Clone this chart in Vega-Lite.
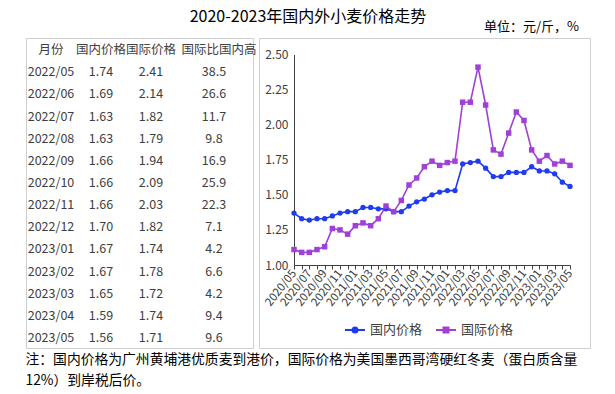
{
  "$schema": "https://vega.github.io/schema/vega-lite/v6.json",
  "padding": {"left": 25, "top": 8, "right": 0, "bottom": 0},
  "background": "white",
  "config": {"font": "Noto Sans CJK SC", "view": {"stroke": "#cfcfcf", "strokeWidth": 1}},
  "datasets": {
    "prices": [
      {"月份": "2020/05", "国内价格": 1.37, "国际价格": 1.11},
      {"月份": "2020/06", "国内价格": 1.33, "国际价格": 1.09},
      {"月份": "2020/07", "国内价格": 1.32, "国际价格": 1.09},
      {"月份": "2020/08", "国内价格": 1.33, "国际价格": 1.11},
      {"月份": "2020/09", "国内价格": 1.33, "国际价格": 1.13},
      {"月份": "2020/10", "国内价格": 1.35, "国际价格": 1.26},
      {"月份": "2020/11", "国内价格": 1.37, "国际价格": 1.25},
      {"月份": "2020/12", "国内价格": 1.38, "国际价格": 1.22},
      {"月份": "2021/01", "国内价格": 1.38, "国际价格": 1.28},
      {"月份": "2021/02", "国内价格": 1.41, "国际价格": 1.30},
      {"月份": "2021/03", "国内价格": 1.41, "国际价格": 1.28},
      {"月份": "2021/04", "国内价格": 1.40, "国际价格": 1.33},
      {"月份": "2021/05", "国内价格": 1.40, "国际价格": 1.42},
      {"月份": "2021/06", "国内价格": 1.38, "国际价格": 1.38},
      {"月份": "2021/07", "国内价格": 1.38, "国际价格": 1.46},
      {"月份": "2021/08", "国内价格": 1.42, "国际价格": 1.57},
      {"月份": "2021/09", "国内价格": 1.45, "国际价格": 1.62},
      {"月份": "2021/10", "国内价格": 1.47, "国际价格": 1.70},
      {"月份": "2021/11", "国内价格": 1.50, "国际价格": 1.74},
      {"月份": "2021/12", "国内价格": 1.52, "国际价格": 1.71},
      {"月份": "2022/01", "国内价格": 1.53, "国际价格": 1.73},
      {"月份": "2022/02", "国内价格": 1.53, "国际价格": 1.74},
      {"月份": "2022/03", "国内价格": 1.72, "国际价格": 2.16},
      {"月份": "2022/04", "国内价格": 1.73, "国际价格": 2.16},
      {"月份": "2022/05", "国内价格": 1.74, "国际价格": 2.41, "国际比国内高": 38.5},
      {"月份": "2022/06", "国内价格": 1.69, "国际价格": 2.14, "国际比国内高": 26.6},
      {"月份": "2022/07", "国内价格": 1.63, "国际价格": 1.82, "国际比国内高": 11.7},
      {"月份": "2022/08", "国内价格": 1.63, "国际价格": 1.79, "国际比国内高": 9.8},
      {"月份": "2022/09", "国内价格": 1.66, "国际价格": 1.94, "国际比国内高": 16.9},
      {"月份": "2022/10", "国内价格": 1.66, "国际价格": 2.09, "国际比国内高": 25.9},
      {"月份": "2022/11", "国内价格": 1.66, "国际价格": 2.03, "国际比国内高": 22.3},
      {"月份": "2022/12", "国内价格": 1.70, "国际价格": 1.82, "国际比国内高": 7.1},
      {"月份": "2023/01", "国内价格": 1.67, "国际价格": 1.74, "国际比国内高": 4.2},
      {"月份": "2023/02", "国内价格": 1.67, "国际价格": 1.78, "国际比国内高": 6.6},
      {"月份": "2023/03", "国内价格": 1.65, "国际价格": 1.72, "国际比国内高": 4.2},
      {"月份": "2023/04", "国内价格": 1.59, "国际价格": 1.74, "国际比国内高": 9.4},
      {"月份": "2023/05", "国内价格": 1.56, "国际价格": 1.71, "国际比国内高": 9.6}
    ],
    "header": [
      {"列": "月份"}, {"列": "国内价格"}, {"列": "国际价格"}, {"列": "国际比国内高"}
    ]
  },
  "title": {"text": "2020-2023年国内外小麦价格走势", "fontSize": 16, "fontWeight": "normal", "color": "#000000", "anchor": "middle", "offset": -4},
  "vconcat": [
    {
      "title": {"text": ["注：国内价格为广州黄埔港优质麦到港价，国际价格为美国墨西哥湾硬红冬麦（蛋白质含量", "12%）到岸税后价。"], "orient": "bottom", "anchor": "start", "fontSize": 13.8, "fontWeight": "normal", "lineHeight": 21, "offset": 4, "color": "#000000"},
      "bounds": "flush",
      "spacing": 6,
      "hconcat": [
        {
          "width": 227,
          "height": 310,
          "data": {"name": "prices"},
          "transform": [{"filter": "isValid(datum['国际比国内高'])"}],
          "layer": [
            {
              "data": {"name": "header"},
              "transform": [{"filter": "datum['列'] !== '国际比国内高'"}],
              "mark": {"type": "text", "fontSize": 12.5, "color": "#404040", "baseline": "middle", "dy": 1},
              "encoding": {
                "x": {"field": "列", "type": "ordinal", "scale": {"type": "point", "padding": 0, "domain": ["月份", "国内价格", "国际价格", "国际比国内高"], "range": [25, 175]}, "axis": null},
                "y": {"datum": "表头", "type": "ordinal", "scale": {"type": "point", "padding": 0.5, "domain": ["表头", "2022/05", "2022/06", "2022/07", "2022/08", "2022/09", "2022/10", "2022/11", "2022/12", "2023/01", "2023/02", "2023/03", "2023/04", "2023/05"]}, "axis": null},
                "text": {"field": "列"}
              }
            },
            {
              "data": {"name": "header"},
              "transform": [{"filter": "datum['列'] === '国际比国内高'"}],
              "mark": {"type": "text", "fontSize": 12.5, "color": "#404040", "baseline": "middle", "dy": 1, "dx": 18},
              "encoding": {
                "x": {"field": "列", "type": "ordinal"},
                "y": {"datum": "表头", "type": "ordinal"},
                "text": {"field": "列"}
              }
            },
            {
              "mark": {"type": "text", "fontSize": 12.5, "color": "#404040", "baseline": "middle", "dy": 1},
              "encoding": {
                "x": {"datum": "月份", "type": "ordinal"},
                "y": {"field": "月份", "type": "ordinal"},
                "text": {"field": "月份"}
              }
            },
            {
              "mark": {"type": "text", "fontSize": 12.5, "color": "#404040", "baseline": "middle", "dy": 1},
              "encoding": {
                "x": {"datum": "国内价格", "type": "ordinal"},
                "y": {"field": "月份", "type": "ordinal"},
                "text": {"field": "国内价格", "format": ".2f"}
              }
            },
            {
              "mark": {"type": "text", "fontSize": 12.5, "color": "#404040", "baseline": "middle", "dy": 1},
              "encoding": {
                "x": {"datum": "国际价格", "type": "ordinal"},
                "y": {"field": "月份", "type": "ordinal"},
                "text": {"field": "国际价格", "format": ".2f"}
              }
            },
            {
              "mark": {"type": "text", "fontSize": 12.5, "color": "#404040", "baseline": "middle", "dy": 1, "dx": 13},
              "encoding": {
                "x": {"datum": "国际比国内高", "type": "ordinal"},
                "y": {"field": "月份", "type": "ordinal"},
                "text": {"field": "国际比国内高", "format": ".1f"}
              }
            }
          ]
        },
        {
          "width": 331,
          "height": 310,
          "title": {"text": "单位：元/斤，%", "anchor": "end", "fontSize": 13, "fontWeight": "normal", "offset": 4, "dx": -11, "color": "#000000"},
          "data": {"name": "prices"},
          "transform": [{"fold": ["国内价格", "国际价格"], "as": ["系列", "价格"]}],
          "encoding": {
            "x": {
              "field": "月份", "type": "ordinal",
              "scale": {"type": "point", "padding": 0, "range": [35, 311]},
              "axis": {"title": null, "offset": -83, "tickSize": 4, "tickColor": "#404040", "domainColor": "#404040", "labelAngle": -52, "labelAlign": "right", "labelBaseline": "middle", "labelFontSize": 11.5, "labelPadding": 2, "labelColor": "#404040", "labelOverlap": false, "grid": false, "labelExpr": "toNumber(slice(datum.value, 5)) % 2 == 1 ? datum.value : ''"}
            },
            "y": {
              "field": "价格", "type": "quantitative",
              "scale": {"domain": [1, 2.5], "range": [227, 16.5], "nice": false, "zero": false},
              "axis": {"title": null, "values": [1, 1.25, 1.5, 1.75, 2, 2.25, 2.5], "format": ".2f", "grid": false, "ticks": false, "offset": -35, "labelPadding": 6, "labelFontSize": 12, "labelColor": "#404040", "domainColor": "#404040"}
            },
            "color": {
              "field": "系列", "type": "nominal",
              "scale": {"domain": ["国内价格", "国际价格"], "range": ["#1f3cf0", "#a040d8"]},
              "legend": {
                "title": null, "orient": "none", "legendX": 318, "legendY": 281, "direction": "horizontal",
                "symbolSize": 400, "symbolStrokeWidth": 2, "labelFontSize": 13, "labelColor": "#404040", "columnPadding": 9, "labelOffset": 4,
                "encode": {"symbols": {"update": {
                  "shape": {"signal": "datum.value === '国内价格' ? 'M-1,0H1M0.25,0A0.25,0.25,0,1,1,-0.25,0A0.25,0.25,0,1,1,0.25,0Z' : 'M-1,0H1M-0.25,-0.25H0.25V0.25H-0.25Z'"},
                  "fill": {"signal": "datum.value === '国内价格' ? '#1f3cf0' : '#a040d8'"},
                  "stroke": {"signal": "datum.value === '国内价格' ? '#1f3cf0' : '#a040d8'"},
                  "opacity": {"value": 1}
                }}}
              }
            }
          },
          "layer": [
            {"mark": {"type": "line", "strokeWidth": 1.6}},
            {"transform": [{"filter": "datum['系列'] === '国内价格'"}], "mark": {"type": "point", "shape": "circle", "filled": true, "size": 28, "opacity": 1}},
            {"transform": [{"filter": "datum['系列'] === '国际价格'"}], "mark": {"type": "point", "shape": "square", "filled": true, "size": 30, "opacity": 1}}
          ]
        }
      ]
    }
  ]
}
